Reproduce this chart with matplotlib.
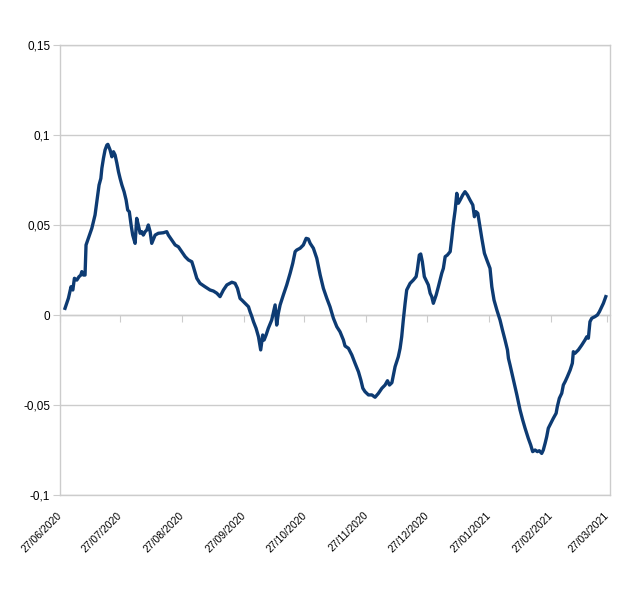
import matplotlib
matplotlib.use("Agg")
import matplotlib.pyplot as plt
import matplotlib.dates as mdates
import matplotlib.transforms as mtransforms
import pandas as pd
import numpy as np

plt.rcParams['font.family'] = ['Liberation Sans', 'DejaVu Sans']

start_date = "2020-06-27"
# days since 27/06/2020
day_offsets = [
    2.5, 4.2, 5.5, 6.4, 7.2, 8.4, 9.5, 10.4, 10.9, 11.7, 12.5, 13.0, 14.7, 15.9, 16.7,
    17.5, 18.4, 19.5, 20.4, 20.9, 21.7, 22.5, 23.4, 23.9, 25.0, 25.9, 26.7, 27.5, 28.4,
    29.2, 30.0, 30.9, 32.0, 33.0, 33.8, 34.6, 35.5, 36.3, 37.5, 38.3, 39.1, 40.0, 40.8,
    41.6, 42.5, 43.3, 44.1, 45.0, 45.8, 47.5, 49.1, 51.6, 53.3, 54.1, 55.8, 57.5, 59.1,
    60.8, 62.5, 64.1, 65.8, 66.6, 68.3, 69.9, 72.4, 74.9, 76.6, 78.3, 79.9, 81.6, 83.3,
    85.8, 87.4, 88.6, 89.9, 90.8, 92.4, 94.1, 94.9, 95.8, 96.6, 97.9, 99.1, 100.2, 101.2,
    101.9, 102.9, 104.0, 105.7, 107.4, 108.2, 109.0, 109.9, 111.5, 113.2, 114.9, 116.2,
    117.4, 118.2, 119.9, 121.5, 122.9, 124.0, 124.9, 126.5, 128.2, 129.9, 131.5, 133.2,
    134.8, 136.5, 138.2, 139.8, 141.5, 142.3, 144.0, 145.7, 147.3, 149.0, 150.2, 151.2,
    152.3, 154.0, 155.7, 157.3, 159.0, 160.7, 162.3, 163.5, 164.5, 165.7, 166.5, 167.3,
    168.9, 169.8, 170.6, 171.4, 172.3, 173.1, 174.8, 176.4, 177.8, 178.4, 179.4, 180.1,
    180.9, 181.9, 183.9, 184.8, 185.6, 186.4, 187.8, 188.9, 190.6, 191.4, 192.3, 193.4,
    194.8, 195.6, 196.4, 197.3, 198.1, 198.9, 199.8, 201.1, 202.2, 203.4, 204.7, 206.1,
    206.9, 207.7, 208.6, 209.4, 210.6, 211.9, 213.1, 214.7, 215.6, 216.7, 218.1, 219.7,
    220.9, 222.2, 223.4, 223.9, 224.7, 226.4, 228.1, 229.7, 231.0, 232.2, 233.8, 235.0,
    236.0, 237.2, 238.3, 239.3, 240.5, 241.3, 242.2, 243.0, 243.8, 245.0, 246.3, 247.7,
    248.3, 249.3, 250.5, 251.3, 252.2, 253.3, 254.7, 255.8, 256.3, 257.1, 258.8, 260.5,
    262.1, 263.0, 263.8, 264.6, 265.5, 267.1, 268.3, 269.3, 270.5, 271.3, 272.5,
]
values = [
    0.0037, 0.0093, 0.0157, 0.0139, 0.0204, 0.0194, 0.0213, 0.0222, 0.0241, 0.0222, 0.0222,
    0.0389, 0.0444, 0.0482, 0.0518, 0.0556, 0.0629, 0.0722, 0.0759, 0.0815, 0.0871, 0.0917,
    0.0944, 0.0948, 0.0917, 0.0879, 0.0907, 0.0889, 0.0843, 0.0796, 0.0759, 0.0722, 0.0685,
    0.0639, 0.0583, 0.0574, 0.0500, 0.0444, 0.0398, 0.0537, 0.0500, 0.0454, 0.0463, 0.0444,
    0.0463, 0.0472, 0.0500, 0.0463, 0.0398, 0.0444, 0.0454, 0.0457, 0.0463, 0.0444, 0.0417,
    0.0389, 0.0379, 0.0352, 0.0324, 0.0306, 0.0296, 0.0268, 0.0204, 0.0176, 0.0157, 0.0139,
    0.0133, 0.0121, 0.0102, 0.0139, 0.0167, 0.0182, 0.0176, 0.0148, 0.0092, 0.0083, 0.0065,
    0.0046, 0.0018, -0.0009, -0.0037, -0.0074, -0.0121, -0.0194, -0.0111, -0.0139, -0.0111,
    -0.0074, -0.0028, 0.0056, -0.0056, 0.0009, 0.0056, 0.0111, 0.0167, 0.0232, 0.0287,
    0.0352, 0.0361, 0.0371, 0.0389, 0.0426, 0.0422, 0.0398, 0.0371, 0.0315, 0.0222, 0.0148,
    0.0093, 0.0046, -0.0018, -0.0065, -0.0093, -0.0139, -0.0172, -0.0185, -0.0222, -0.0268,
    -0.0315, -0.0361, -0.0407, -0.0426, -0.0444, -0.0444, -0.0457, -0.0435, -0.0407, -0.0389,
    -0.0365, -0.0389, -0.0376, -0.0333, -0.0287, -0.0232, -0.0185, -0.0121, -0.0028, 0.0065,
    0.0139, 0.0176, 0.0194, 0.0213, 0.0250, 0.0333, 0.0339, 0.0296, 0.0213, 0.0167, 0.0121,
    0.0102, 0.0065, 0.0111, 0.0157, 0.0232, 0.0259, 0.0324, 0.0333, 0.0352, 0.0426, 0.0509,
    0.0583, 0.0676, 0.0621, 0.0639, 0.0667, 0.0685, 0.0667, 0.0639, 0.0611, 0.0546, 0.0574,
    0.0565, 0.0509, 0.0426, 0.0343, 0.0306, 0.0259, 0.0157, 0.0083, 0.0028, -0.0028, -0.0083,
    -0.0139, -0.0194, -0.0241, -0.0278, -0.0361, -0.0444, -0.0528, -0.0583, -0.0629, -0.0685,
    -0.0722, -0.0759, -0.0750, -0.0759, -0.0754, -0.0769, -0.0750, -0.0713, -0.0676, -0.0629,
    -0.0602, -0.0574, -0.0546, -0.0509, -0.0463, -0.0435, -0.0389, -0.0370, -0.0343, -0.0306,
    -0.0268, -0.0204, -0.0213, -0.0194, -0.0167, -0.0139, -0.0121, -0.0129, -0.0037, -0.0018,
    -0.0009, 0.0000, 0.0018, 0.0046, 0.0065, 0.0102,
]
tick_dates = ["2020-06-27", "2020-07-27", "2020-08-27", "2020-09-27", "2020-10-27",
              "2020-11-27", "2020-12-27", "2021-01-27", "2021-02-27", "2021-03-27"]
y_ticks = [-0.1, -0.05, 0, 0.05, 0.1, 0.15]
y_labels = ["-0,1", "-0,05", "0", "0,05", "0,1", "0,15"]

t0 = pd.Timestamp(start_date)
x = [t0 + pd.Timedelta(days=d) for d in day_offsets]
ticks = pd.to_datetime(tick_dates)

grid_c = "#cccccc"
fig = plt.figure(figsize=(6.4, 6.04), dpi=100)
ax = fig.add_axes([60/640, 1-495/604, 550/640, 450/604])

ax.plot(x, values, color="#0d3b73", lw=2.4, solid_joinstyle="round", zorder=3)

ax.set_ylim(-0.1, 0.15)
ax.set_xlim(t0, t0 + pd.Timedelta(days=274.6))
ax.set_yticks(y_ticks)
ax.set_yticklabels(y_labels, fontsize=8.5)
ax.yaxis.grid(True, color=grid_c, lw=1.0)
ax.set_axisbelow(True)
ax.tick_params(axis="y", length=5, color=grid_c, pad=2)

ax.set_xticks(ticks)
ax.xaxis.set_major_formatter(mdates.DateFormatter("%d/%m/%Y"))
ax.tick_params(axis="x", length=0, pad=11)
shift = mtransforms.ScaledTranslation(4/100, 0, fig.dpi_scale_trans)
for lab in ax.get_xticklabels():
    lab.set_rotation(45)
    lab.set_ha("right")
    lab.set_va("top")
    lab.set_fontsize(7.5)
    lab.set_transform(lab.get_transform() + shift)

for s in ax.spines.values():
    s.set_color(grid_c)
    s.set_linewidth(1.0)

sec = ax.secondary_xaxis(0.4)
sec.set_xticks(ticks)
sec.tick_params(axis="x", length=5, color=grid_c, labelbottom=False, direction="out")
sec.spines["bottom"].set_color(grid_c)
sec.spines["bottom"].set_linewidth(1.0)

fig.savefig("out.png", dpi=100, facecolor="white")
